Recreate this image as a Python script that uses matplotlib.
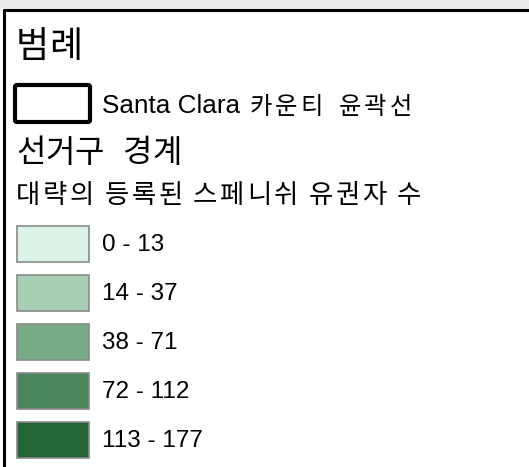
import matplotlib.pyplot as plt
from matplotlib.patches import Rectangle, FancyBboxPatch

plt.rcParams['font.family'] = ['Liberation Sans', 'Noto Sans CJK KR', 'DejaVu Sans']

# legend content
title = "범례"
county_name = "Santa Clara"
county_suffix = "카운티 윤곽선"
section_label = "선거구 경계"
class_title = "대략의 등록된 스페니쉬 유권자 수"
class_labels = ["0 - 13", "14 - 37", "38 - 71", "72 - 112", "113 - 177"]
class_colors = ["#dcf4e8", "#a6cfb4", "#78ab86", "#4a845a", "#236535"]

W, H = 529, 467
fig = plt.figure(figsize=(W / 100, H / 100), dpi=100)
ax = fig.add_axes([0, 0, 1, 1])
ax.set_xlim(0, W)
ax.set_ylim(H, 0)
ax.axis('off')
renderer = fig.canvas.get_renderer()


def hangul_text(x, y, text, size, adv, space, **kw):
    # the original uses a wide-set Korean font, so lay glyphs out on a fixed pitch
    for ch in text:
        if ch == ' ':
            x += space
            continue
        ax.text(x, y, ch, fontsize=size, ha='left', **kw)
        x += adv


# gray map strip behind the legend frame
ax.add_patch(Rectangle((0, 0), W, 10, facecolor='#ececec', edgecolor='none'))
# legend frame
ax.plot([4, 4, W + 5], [H + 5, 10, 10], color='black', lw=2.2, solid_capstyle='butt')

hangul_text(16, 47, title, 26, 33, 0, va='center')

# county outline swatch
ax.add_patch(FancyBboxPatch((15, 85), 75, 37, boxstyle='round,pad=0,rounding_size=2',
                            facecolor='white', edgecolor='black', lw=3))
t = ax.text(102, 113, county_name, fontsize=18.8, ha='left', va='baseline')
x_end = t.get_window_extent(renderer).x1
hangul_text(x_end + 9, 114, county_suffix, 17.5, 25.5, 13, va='baseline')

hangul_text(16, 154, section_label, 23, 29, 20, va='center')
hangul_text(16, 196, class_title, 19, 27, 7.5, va='center')

y0, step, sh = 226, 49, 36
for i, (lab, col) in enumerate(zip(class_labels, class_colors)):
    y = y0 + i * step
    ax.add_patch(Rectangle((17, y), 72, sh, facecolor=col, edgecolor='#8a8a8a', lw=1.2))
    ax.text(102, y + sh / 2 + 1, lab, fontsize=17.5, va='center', ha='left')

fig.savefig('out.png', dpi=100)
